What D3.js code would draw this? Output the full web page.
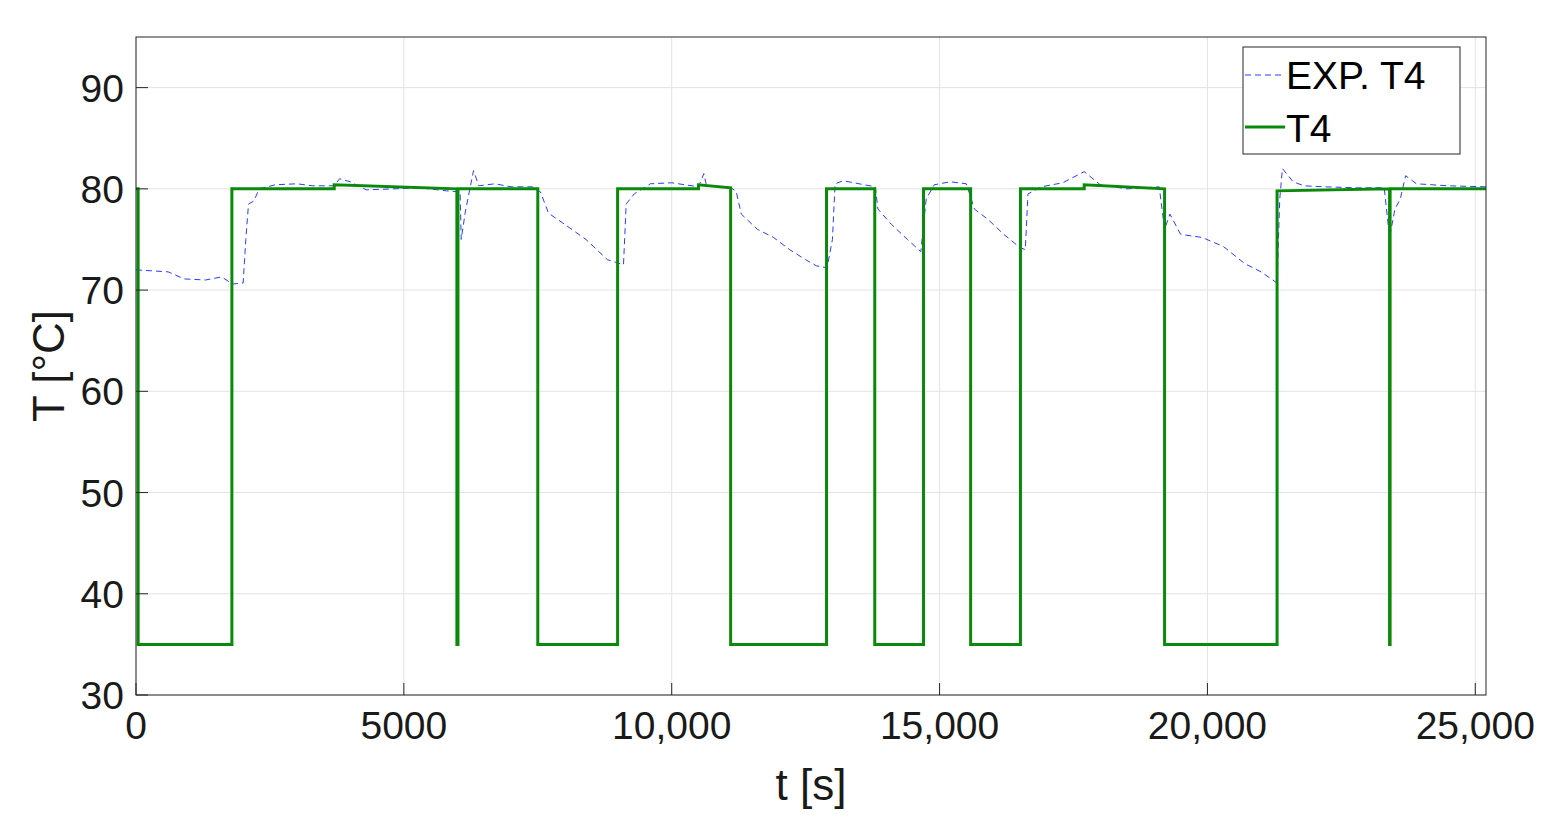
<!DOCTYPE html>
<html><head><meta charset="utf-8">
<script src="https://d3js.org/d3.v7.min.js"></script>
<style>body{margin:0;background:#fff;font-family:Arial,"Liberation Sans",sans-serif}</style>
</head><body><svg id="c" width="1567" height="827"></svg>
<script>
var xTicks = [0, 5000, 10000, 15000, 20000, 25000];
var yTicks = [30, 40, 50, 60, 70, 80, 90];
var expT = [0, 600, 900, 1300, 1600, 1800, 2000, 2050, 2100, 2200, 2300, 2600, 3000, 3300, 3700, 3800, 4000, 4300, 4800, 5300, 5800, 6050, 6070, 6150, 6300, 6400, 6700, 7000, 7400, 7550, 7700, 8000, 8400, 8800, 9100, 9150, 9300, 9600, 10000, 10500, 10600, 10650, 11100, 11200, 11300, 11600, 11900, 12200, 12500, 12700, 12900, 13000, 13050, 13200, 13500, 13800, 13850, 14100, 14400, 14650, 14750, 14900, 15200, 15500, 15650, 15900, 16200, 16500, 16600, 16650, 16900, 17300, 17700, 18000, 18500, 19100, 19200, 19300, 19500, 19900, 20300, 20700, 21000, 21300, 21350, 21400, 21600, 21800, 22200, 22800, 23300, 23400, 23500, 23600, 23700, 23900, 24500, 25200];
var expV = [72, 71.8, 71.1, 71.0, 71.3, 70.6, 70.7, 75, 78.5, 78.8, 80, 80.4, 80.5, 80.3, 80.3, 81, 80.7, 79.9, 80, 80.1, 79.8, 79.7, 75, 77.8, 81.8, 80.3, 80.5, 80.2, 80.2, 79.7, 77.6, 76.5, 75, 73, 72.5, 78.5, 79.5, 80.5, 80.6, 80.2, 81.5, 80.3, 80.1, 79.8, 77.5, 76, 75.2, 74, 73, 72.4, 72.2, 75, 80.5, 80.8, 80.5, 80.2, 78, 76.5, 75, 73.8, 79, 80.4, 80.7, 80.5, 78, 77, 75.5, 74.2, 74, 79.5, 80.2, 80.6, 81.7, 80.4, 80, 80.2, 76, 77.5, 75.5, 75.2, 74.3, 72.6, 71.8, 70.7, 79, 82, 80.7, 80.3, 80.2, 80.1, 80.1, 75.2, 78, 79, 81.3, 80.5, 80.3, 80.2];
var simT = [0, 40, 40, 1790, 1790, 3700, 3700, 5990, 5990, 6010, 6010, 7500, 7500, 8990, 8990, 10500, 10500, 11100, 11100, 12890, 12890, 13790, 13790, 14700, 14700, 15580, 15580, 16510, 16510, 17700, 17700, 19200, 19200, 21300, 21300, 23400, 23400, 23410, 23410, 25200];
var simV = [80, 80, 35, 35, 80, 80, 80.4, 80, 35, 35, 80, 80, 35, 35, 80, 80, 80.4, 80.1, 35, 35, 80, 80, 35, 35, 80, 80, 35, 35, 80, 80, 80.4, 80, 35, 35, 79.8, 80, 35, 35, 80, 80];

var svg = d3.select("#c");
var L = 136, R = 1486, T = 37, B = 695;
var x = d3.scaleLinear().domain([0, 25200]).range([L, R]);
var y = d3.scaleLinear().domain([30, 95]).range([B, T]);
var fmt = function(v){ return v >= 10000 ? d3.format(",")(v) : String(v); };

svg.selectAll(".gx").data(xTicks).enter().append("line")
  .attr("x1", d => x(d)).attr("x2", d => x(d)).attr("y1", T).attr("y2", B)
  .attr("stroke", "#e3e3e3").attr("stroke-width", 1);
svg.selectAll(".gy").data(yTicks).enter().append("line")
  .attr("x1", L).attr("x2", R).attr("y1", d => y(d)).attr("y2", d => y(d))
  .attr("stroke", "#e3e3e3").attr("stroke-width", 1);

svg.append("clipPath").attr("id", "cp").append("rect")
  .attr("x", L).attr("y", T).attr("width", R - L).attr("height", B - T);

var line = d3.line().x(d => x(d[0])).y(d => y(d[1]));
var g = svg.append("g").attr("clip-path", "url(#cp)");
g.append("path").datum(expT.map((t, i) => [t, expV[i]]))
  .attr("d", line).attr("fill", "none").attr("stroke", "#2a3cff")
  .attr("stroke-width", 1).attr("stroke-dasharray", "6,4");
g.append("path").datum(simT.map((t, i) => [t, simV[i]]))
  .attr("d", line).attr("fill", "none").attr("stroke", "#0a8a0a")
  .attr("stroke-width", 3);

svg.append("rect").attr("x", L).attr("y", T).attr("width", R - L).attr("height", B - T)
  .attr("fill", "none").attr("stroke", "#262626").attr("stroke-width", 1);

svg.selectAll(".tx").data(xTicks).enter().append("line")
  .attr("x1", d => x(d)).attr("x2", d => x(d)).attr("y1", B).attr("y2", B - 12)
  .attr("stroke", "#262626");
svg.selectAll(".ty").data(yTicks).enter().append("line")
  .attr("x1", L).attr("x2", L + 12).attr("y1", d => y(d)).attr("y2", d => y(d))
  .attr("stroke", "#262626");

svg.selectAll(".lx").data(xTicks).enter().append("text")
  .attr("x", d => x(d)).attr("y", B + 44).attr("text-anchor", "middle")
  .attr("font-size", 39).attr("fill", "#1a1a1a").text(fmt);
svg.selectAll(".ly").data(yTicks).enter().append("text")
  .attr("x", L - 12).attr("y", d => y(d) + 14).attr("text-anchor", "end")
  .attr("font-size", 39).attr("fill", "#1a1a1a").text(d => d);

svg.append("text").attr("x", (L + R) / 2).attr("y", 800).attr("text-anchor", "middle")
  .attr("font-size", 44).attr("fill", "#1a1a1a").text("t [s]");
svg.append("text").attr("transform", "translate(64," + ((T + B) / 2) + ") rotate(-90)")
  .attr("text-anchor", "middle").attr("font-size", 44).attr("fill", "#1a1a1a").text("T [°C]");

var lg = svg.append("g").attr("transform", "translate(1243,47)");
lg.append("rect").attr("width", 217).attr("height", 107).attr("fill", "#fff").attr("stroke", "#262626");
lg.append("line").attr("x1", 2).attr("x2", 42).attr("y1", 28).attr("y2", 28)
  .attr("stroke", "#2a3cff").attr("stroke-dasharray", "6,4");
lg.append("line").attr("x1", 2).attr("x2", 42).attr("y1", 80).attr("y2", 80)
  .attr("stroke", "#0a8a0a").attr("stroke-width", 3);
lg.append("text").attr("x", 43).attr("y", 42).attr("font-size", 39).attr("fill", "#000").text("EXP. T4");
lg.append("text").attr("x", 43).attr("y", 95).attr("font-size", 39).attr("fill", "#000").text("T4");
</script></body></html>
